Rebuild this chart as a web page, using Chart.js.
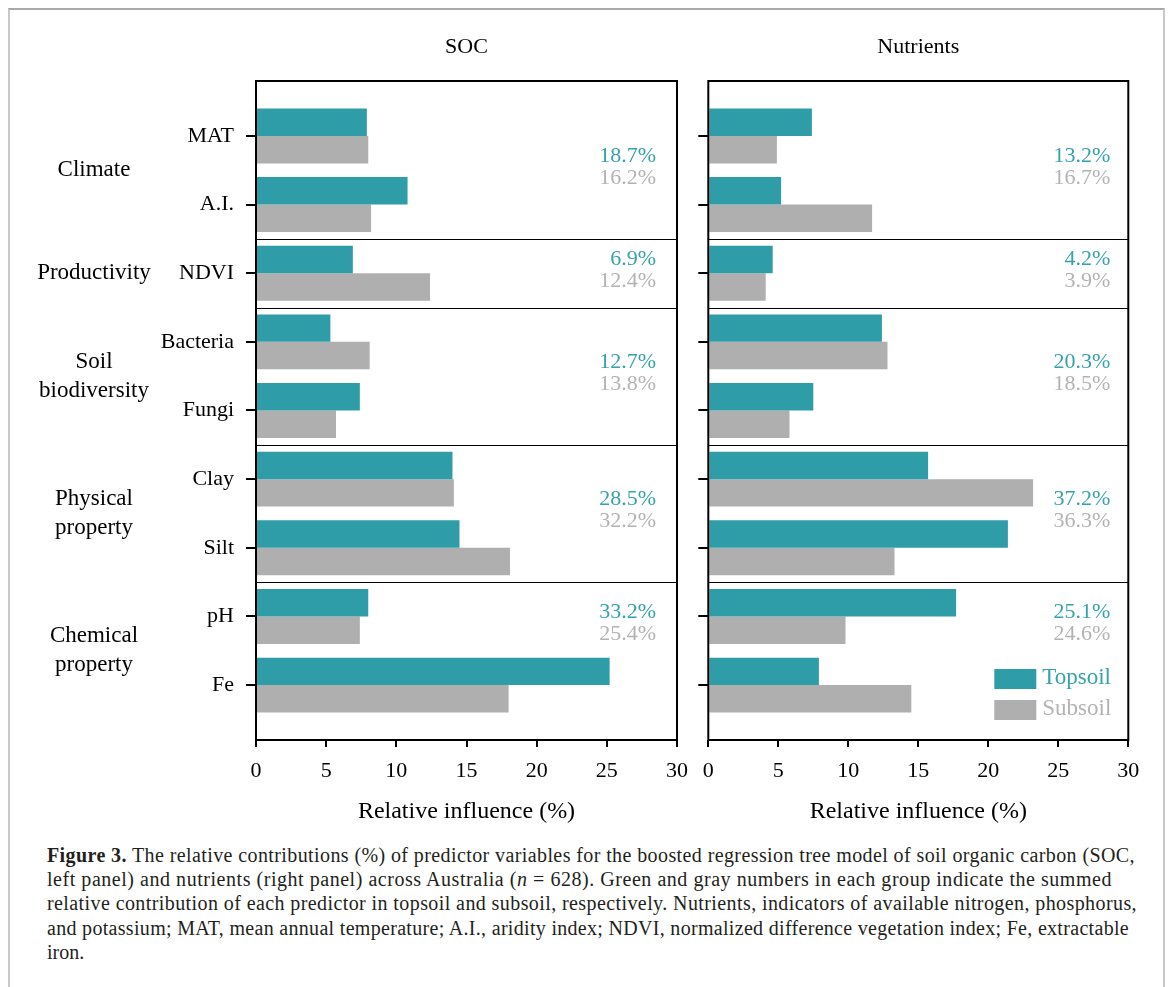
<!DOCTYPE html>
<html>
<head>
<meta charset="utf-8">
<title>Relative influence of predictors on SOC and nutrients</title>
<script src="https://cdn.jsdelivr.net/npm/chart.js@4.4.1/dist/chart.umd.min.js"></script>
<style>
  html, body { margin: 0; padding: 0; background: #fff; }
  body { width: 1171px; height: 987px; position: relative; overflow: hidden;
         font-family: "Liberation Serif", "Times New Roman", serif; }
  #frame { position: absolute; left: 8px; top: 8px; width: 1157px; height: 1000px;
           box-sizing: border-box; border-top: 2px solid #a9a9a9;
           border-left: 2px solid #c8c8c8; border-right: 2px solid #c8c8c8; }
  canvas { position: absolute; top: 0; }
  #socChart { left: 0; }
  #nutChart { left: 690px; }
  #caption { position: absolute; left: 47px; top: 843px; font-size: 20px;
             line-height: 24.2px; color: #231f20; }
  #caption .line { white-space: nowrap; }
  #caption .line span { display: inline-block; }
</style>
</head>
<body>
<div id="frame"></div>
<canvas id="socChart" width="700" height="830"></canvas>
<canvas id="nutChart" width="470" height="830"></canvas>
<div id="caption">
  <div class="line"><span><b>Figure 3.</b> The relative contributions (%) of predictor variables for the boosted regression tree model of soil organic carbon (SOC,</span></div>
  <div class="line"><span>left panel) and nutrients (right panel) across Australia (<i>n</i> = 628). Green and gray numbers in each group indicate the summed</span></div>
  <div class="line"><span>relative contribution of each predictor in topsoil and subsoil, respectively. Nutrients, indicators of available nitrogen, phosphorus,</span></div>
  <div class="line"><span>and potassium; MAT, mean annual temperature; A.I., aridity index; NDVI, normalized difference vegetation index; Fe, extractable</span></div>
  <div class="line"><span>iron.</span></div>
</div>
<script>
// Predictors, top to bottom
const categories = ['MAT', 'A.I.', 'NDVI', 'Bacteria', 'Fungi', 'Clay', 'Silt', 'pH', 'Fe'];
// Predictor groups and how many predictors each holds
const groupNames = [['Climate'], ['Productivity'], ['Soil', 'biodiversity'], ['Physical', 'property'], ['Chemical', 'property']];
const groupSizes = [2, 1, 2, 2, 2];

// Relative influence (%) – SOC model
const socTopsoil = [7.9, 10.8, 6.9, 5.3, 7.4, 14.0, 14.5, 8.0, 25.2];
const socSubsoil = [8.0, 8.2, 12.4, 8.1, 5.7, 14.1, 18.1, 7.4, 18.0];
// Relative influence (%) – nutrients model
const nutTopsoil = [7.4, 5.2, 4.6, 12.4, 7.5, 15.7, 21.4, 17.7, 7.9];
const nutSubsoil = [4.9, 11.7, 4.1, 12.8, 5.8, 23.2, 13.3, 9.8, 14.5];

// Summed contribution per group (%)
const socTopsoilSums = [18.7, 6.9, 12.7, 28.5, 33.2];
const socSubsoilSums = [16.2, 12.4, 13.8, 32.2, 25.4];
const nutTopsoilSums = [13.2, 4.2, 20.3, 37.2, 25.1];
const nutSubsoilSums = [16.7, 3.9, 18.5, 36.3, 24.6];

// x-axis tick values
const xTicks = [0, 5, 10, 15, 20, 25, 30];

const TEAL = '#2e9da7';
const GREY = '#afafaf';
const TEAL_TEXT = '#35a2ac';
const GREY_TEXT = '#b3b3b3';
const SERIF = '"Liberation Serif", "Times New Roman", serif';

Chart.defaults.font.family = SERIF;
Chart.defaults.color = '#000';

function groupBounds() {
  const out = [];
  let s = 0;
  groupSizes.forEach(n => { out.push([s, s + n - 1]); s += n; });
  return out;
}

// Frame, group separators, group sums, group names and legend
const panelDecor = {
  id: 'panelDecor',
  afterDraw(chart, args, opts) {
    const { ctx, chartArea: a } = chart;
    const y = chart.scales.y;
    const bounds = groupBounds();
    ctx.save();

    // thin separators between predictor groups
    ctx.strokeStyle = '#000';
    ctx.lineWidth = 1;
    bounds.slice(0, -1).forEach(([, e]) => {
      const py = Math.round(y.getPixelForValue(e + 0.5)) + 0.5;
      ctx.beginPath();
      ctx.moveTo(a.left, py);
      ctx.lineTo(a.right, py);
      ctx.stroke();
    });

    // panel frame
    ctx.lineWidth = 2;
    ctx.strokeRect(a.left, a.top, a.right - a.left, a.bottom - a.top);

    // summed contributions
    ctx.font = '22px ' + SERIF;
    ctx.textAlign = 'right';
    ctx.textBaseline = 'middle';
    bounds.forEach(([s, e], g) => {
      const shift = g === bounds.length - 1 ? 0.4 : 0.05;
      const cy = y.getPixelForValue((s + e) / 2 - shift);
      ctx.fillStyle = TEAL_TEXT;
      ctx.fillText(opts.topSums[g].toFixed(1) + '%', a.right - opts.inset, cy - 11);
      ctx.fillStyle = GREY_TEXT;
      ctx.fillText(opts.subSums[g].toFixed(1) + '%', a.right - opts.inset, cy + 11);
    });

    // group names on the far left
    if (opts.groupNames) {
      ctx.font = '23px ' + SERIF;
      ctx.textAlign = 'center';
      ctx.fillStyle = '#000';
      bounds.forEach(([s, e], g) => {
        const lines = groupNames[g];
        const cy = y.getPixelForValue((s + e) / 2);
        lines.forEach((t, k) => {
          ctx.fillText(t, 94, cy + (k - (lines.length - 1) / 2) * 29);
        });
      });
    }

    // legend in the lower right corner
    if (opts.legend) {
      const bx = a.right - 134;
      const items = [
        { label: chart.data.datasets[0].label, color: TEAL, text: TEAL_TEXT, top: a.bottom - 71 },
        { label: chart.data.datasets[1].label, color: GREY, text: GREY_TEXT, top: a.bottom - 40 }
      ];
      ctx.font = '23px ' + SERIF;
      ctx.textAlign = 'left';
      items.forEach(it => {
        ctx.fillStyle = it.color;
        ctx.fillRect(bx, it.top, 42, 20);
        ctx.fillStyle = it.text;
        ctx.fillText(it.label, bx + 48, it.top + 9);
      });
    }
    ctx.restore();
  }
};

function makePanel(canvasId, title, topsoil, subsoil, decor, yWidth, padRight) {
  const toPoints = arr => arr.map((v, i) => ({ x: v, y: i }));
  return new Chart(document.getElementById(canvasId), {
    type: 'bar',
    data: {
      datasets: [
        { label: 'Topsoil', data: toPoints(topsoil), backgroundColor: TEAL, borderWidth: 0 },
        { label: 'Subsoil', data: toPoints(subsoil), backgroundColor: GREY, borderWidth: 0 }
      ]
    },
    options: {
      indexAxis: 'y',
      responsive: false,
      animation: false,
      events: [],
      barPercentage: 1,
      categoryPercentage: 0.8,
      layout: { padding: { left: 0, right: padRight, top: 0, bottom: 0 } },
      scales: {
        y: {
          type: 'linear',
          reverse: true,
          offset: false,
          min: -0.8,
          max: 8.8,
          afterBuildTicks: axis => { axis.ticks = categories.map((c, i) => ({ value: i })); },
          afterFit: axis => { axis.width = yWidth; },
          ticks: {
            display: decor.tickLabels,
            padding: 12,
            font: { size: 22 },
            color: '#000',
            callback: v => categories[v]
          },
          grid: { display: true, offset: false, drawOnChartArea: false, drawTicks: true, tickLength: 10, lineWidth: 2, color: '#000' },
          border: { display: false }
        },
        x: {
          type: 'linear',
          min: 0,
          max: 30,
          afterBuildTicks: axis => { axis.ticks = xTicks.map(v => ({ value: v })); },
          afterFit: axis => { axis.height = 90; },
          ticks: { padding: 11.5, font: { size: 22 }, color: '#000', maxRotation: 0 },
          grid: { display: true, drawOnChartArea: false, drawTicks: true, tickLength: 7, lineWidth: 2, color: '#000' },
          border: { display: false },
          title: {
            display: true,
            text: 'Relative influence (%)',
            font: { size: 24 },
            color: '#000',
            padding: { top: 0, bottom: 4 }
          }
        }
      },
      plugins: {
        legend: { display: false },
        tooltip: { enabled: false },
        title: {
          display: true,
          text: title,
          fullSize: false,
          color: '#000',
          font: { size: 22, weight: 'normal' },
          padding: { top: 34, bottom: 20.6 }
        },
        panelDecor: decor
      }
    },
    plugins: [panelDecor]
  });
}

makePanel('socChart', 'SOC', socTopsoil, socSubsoil,
  { tickLabels: true, groupNames: true, legend: false, inset: 21, topSums: socTopsoilSums, subSums: socSubsoilSums },
  256, 23);
makePanel('nutChart', 'Nutrients', nutTopsoil, nutSubsoil,
  { tickLabels: false, groupNames: false, legend: true, inset: 18, topSums: nutTopsoilSums, subSums: nutSubsoilSums },
  18.3, 31.7);

// Caption: spread each line to its set width
const captionWidths = [1088, 1065, 1090, 1082, null];
document.querySelectorAll('#caption .line span').forEach((span, i) => {
  const target = captionWidths[i];
  if (!target) return;
  const natural = span.getBoundingClientRect().width;
  const chars = span.textContent.length;
  span.style.letterSpacing = ((target - natural) / chars) + 'px';
});
</script>
</body>
</html>
